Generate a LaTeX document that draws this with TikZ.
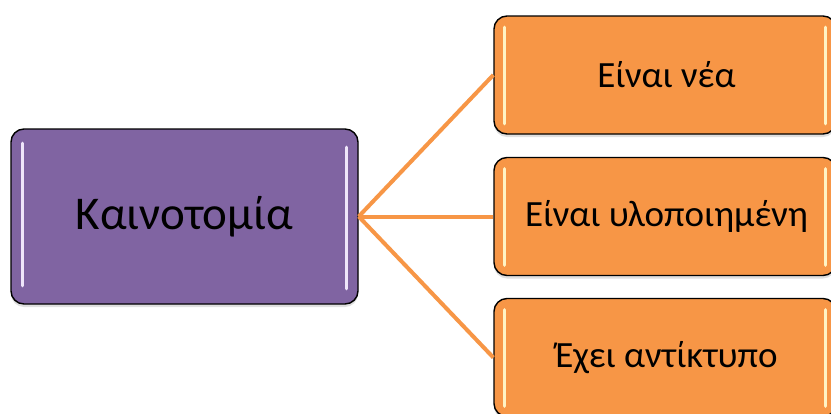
\documentclass[tikz,border=0pt]{standalone}
\usepackage{fontspec}
\setmainfont{Carlito}
\usetikzlibrary{shadows}
\definecolor{purp}{HTML}{8064A2}
\definecolor{oran}{HTML}{F79646}
\definecolor{purpstrip}{HTML}{EFE6FA}
\definecolor{oranstrip}{HTML}{FFF3C4}
\tikzset{
  boxbase/.style={draw=black, line width=1.4pt, rounded corners=13pt, inner sep=0pt,
    drop shadow={shadow xshift=0pt, shadow yshift=-3pt, opacity=0.25}},
  mainbox/.style={boxbase, fill=purp, minimum width=347pt, minimum height=175pt,
    font=\fontsize{47}{54}\selectfont},
  leafbox/.style={boxbase, fill=oran, minimum width=342pt, minimum height=118pt,
    font=\fontsize{37}{44}\selectfont},
  link/.style={draw=oran, line width=4pt},
  pstrip/.style={draw=purpstrip, line width=3.5pt, line cap=round},
  ostrip/.style={draw=oranstrip, line width=3.5pt, line cap=round},
}
\begin{document}
\begin{tikzpicture}[x=1pt,y=-1pt]
\useasboundingbox (0,0) rectangle (831,413);
\clip (0,0) rectangle (831,413);
\fill[white] (0,0) rectangle (831,413);
\node[mainbox] (main) at (184.5,216.5) {Καινοτομία};
\node[leafbox] (l1) at (665,75) {\hspace*{3pt}Είναι νέα};
\node[leafbox] (l2) at (665,216.5) {\hspace*{3pt}Είναι υλοποιημένη};
\node[leafbox] (l3) at (665,357.5) {\hspace*{3pt}Έχει αντίκτυπο};
\foreach \n in {l1,l2,l3}{
  \draw[link] (main.east) -- (\n.west);
}
\draw[pstrip] ([xshift=12pt,yshift=-15pt]main.north west) -- ([xshift=12pt,yshift=19pt]main.south west);
\draw[pstrip] ([xshift=-12pt,yshift=-19pt]main.north east) -- ([xshift=-12pt,yshift=16pt]main.south east);
\foreach \n in {l1,l2,l3}{
  \draw[ostrip] ([xshift=11pt,yshift=-12pt]\n.north west) -- ([xshift=11pt,yshift=11pt]\n.south west);
  \draw[ostrip] ([xshift=-11pt,yshift=-12pt]\n.north east) -- ([xshift=-11pt,yshift=11pt]\n.south east);
}
\end{tikzpicture}
\end{document}
